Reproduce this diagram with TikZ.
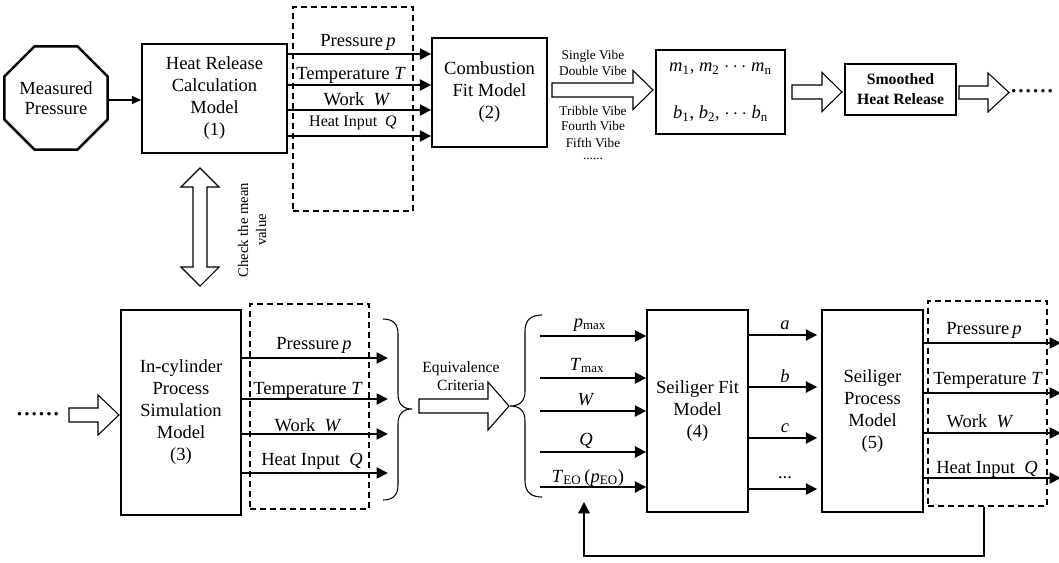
\documentclass[tikz,border=0pt]{standalone}
\usepackage{fontspec}
\setmainfont{Liberation Serif}
\usetikzlibrary{arrows.meta,shapes.geometric}
\newcommand\mainf{\fontsize{13.9}{16.5}\selectfont}
\newcommand\smallf{\fontsize{12}{14}\selectfont}
\newcommand\vibef{\fontsize{10}{11.6}\selectfont}
\newcommand\HArr[6]{\draw[hol] (#1,{#3-#4}) -- (#6,{#3-#4}) -- (#6,{#3-#5}) -- (#2,#3) -- (#6,{#3+#5}) -- (#6,{#3+#4}) -- (#1,{#3+#4}) -- cycle;}
\begin{document}
\begin{tikzpicture}[x=0.75pt,y=-0.75pt,
  box/.style={draw,line width=1.05pt,inner sep=0pt,align=center,font=\mainf},
  oct/.style={draw,regular polygon,regular polygon sides=8,minimum size=78.75pt,line width=1.9pt,inner sep=0pt,align=center,font=\fontsize{13.9}{15}\selectfont},
  dbox/.style={draw,dashed,dash pattern=on 4.5pt off 3pt,line width=1pt,inner sep=0pt},
  thk/.style={line width=2.1pt,-{Triangle[length=8.5pt,width=8pt]}},
  thn/.style={line width=0.9pt,-{Triangle[length=7pt,width=6pt]}},
  fb/.style={line width=1.7pt,-{Triangle[length=8.5pt,width=8.5pt]}},
  hol/.style={draw,line width=0.8pt,fill=white,line join=miter},
  brc/.style={draw,line width=0.8pt},
  lab/.style={font=\mainf,anchor=base,inner sep=0pt},
  slab/.style={font=\smallf,anchor=base,inner sep=0pt},
  vlab/.style={font=\vibef,anchor=base,inner sep=0pt}
]
\useasboundingbox (0,0) rectangle (1059,563);

% dashed frames
\node[dbox,minimum width=90pt,minimum height=153pt] (d1) at (353,109) {};
\node[dbox,minimum width=89.25pt,minimum height=153.75pt] (d2) at (309.5,406.5) {};
\node[dbox,minimum width=89.25pt,minimum height=153.75pt] (d3) at (987.5,403.5) {};

% boxes
\node[oct] (mp) at (56,98) {Measured\\Pressure};
\node[box,minimum width=108.75pt,minimum height=81.75pt] (b1) at (214.5,98.5) {Heat Release\\Calculation\\Model\\(1)};
\node[box,minimum width=86.25pt,minimum height=81.75pt] (b2) at (489.5,92.5) {Combustion\\Fit Model\\(2)};
\node[box,minimum width=96.75pt,minimum height=63pt] (mb) at (720.5,92)
  {\textit{m}\textsubscript{1}, \textit{m}\textsubscript{2} $\cdots$ \textit{m}\textsubscript{n}\\[18.5pt]
   \textit{b}\textsubscript{1}, \textit{b}\textsubscript{2}, $\cdots$ \textit{b}\textsubscript{n}};
\node[box,minimum width=83.25pt,minimum height=38.25pt,font=\fontsize{11.8}{15}\selectfont\bfseries] (sh) at (900.5,89.5) {Smoothed\\Heat Release};
\node[box,minimum width=90pt,minimum height=153.75pt] (b3) at (181,412.5) {In-cylinder\\Process\\Simulation\\Model\\(3)};
\node[box,minimum width=75.75pt,minimum height=151.5pt] (b4) at (697.5,411) {Seiliger Fit\\Model\\(4)};
\node[box,minimum width=75.75pt,minimum height=151.5pt] (b5) at (872.5,411) {Seiliger\\Process\\Model\\(5)};

% measured pressure -> model 1
\draw[thn] (mp.east |- 0,100) -- (b1.west |- 0,100);

% top outputs
\foreach \yy in {54,85,110,136} {\draw[thk] (b1.east |- 0,\yy) -- (b2.west |- 0,\yy);}
\node[lab] (tp) at (358,47) {Pressure\,\textit{p}};
\node[lab] (tt) at (351,80) {Temperature \textit{T}};
\node[lab] (tw) at (357,106) {Work\ \ \textit{W}};
\node[slab] (tq) at (353,127) {Heat Input\ \ \textit{Q}};

% hollow arrows top
\HArr{552}{653}{90}{7}{19.5}{633}
\node[vlab] (v1) at (593,60) {Single Vibe};
\node[vlab] (v2) at (593,76) {Double Vibe};
\node[vlab] (v3) at (593,116) {Tribble Vibe};
\node[vlab] (v4) at (593,131) {Fourth Vibe};
\node[vlab] (v5) at (593,147) {Fifth Vibe};
\node[vlab] (v6) at (593,160) {......};
\HArr{792}{842}{92}{7}{19.5}{822}
\HArr{959}{1009}{92.5}{6.5}{19.5}{988}
\node[font=\fontsize{22}{22}\selectfont,anchor=base,inner sep=0pt] (rdots) at (1032,93) {......};

% check the mean value
\draw[hol] (200,168) -- (219,187) -- (207,187) -- (207,267) -- (219,267) -- (200,286) -- (181,267) -- (193,267) -- (193,187) -- (181,187) -- cycle;
\node[rotate=90,font=\fontsize{11}{13.5}\selectfont,align=center,inner sep=0pt] (chk) at (252,230) {Check the mean\\value};

% bottom left
\node[font=\fontsize{22}{22}\selectfont,anchor=base,inner sep=0pt] (ldots) at (38,415) {......};
\HArr{69}{119}{415}{7}{20}{98}
\foreach \yy in {358,399,434,473} {\draw[thk] (b3.east |- 0,\yy) -- (388,\yy);}
\node[lab] (bp) at (314,349) {Pressure\,\textit{p}};
\node[lab] (bt) at (308,394) {Temperature \textit{T}};
\node[lab] (bw) at (308,431) {Work\ \ \textit{W}};
\node[lab] (bq) at (312,465) {Heat Input\ \ \textit{Q}};

% braces
\draw[brc] (383,319) .. controls (393,319) and (398,324) .. (398,334) -- (398,394) .. controls (398,404) and (403,409) .. (412,409) .. controls (403,409) and (398,414) .. (398,424) -- (398,485) .. controls (398,495) and (393,500) .. (383,500);
\HArr{419}{509}{406}{7}{24}{488}
\node[font=\fontsize{11.7}{14}\selectfont,align=center,inner sep=0pt] (eq) at (461,376) {Equivalence\\Criteria};
\draw[brc] (542,315) .. controls (531,315) and (525,320) .. (525,331) -- (525,391) .. controls (525,401) and (520,406) .. (510,406) .. controls (520,406) and (525,411) .. (525,421) -- (525,481) .. controls (525,492) and (531,497) .. (542,497);

% inputs to Seiliger fit
\foreach \yy in {336,378,411,452,487} {\draw[thk] (540,\yy) -- (b4.west |- 0,\yy);}
\node[lab] (ipm) at (590,327) {\textit{p}\textsubscript{max}};
\node[lab] (itm) at (587,370) {\textit{T}\textsubscript{max}};
\node[lab] (iw) at (586,405) {\textit{W}};
\node[lab] (iq) at (586,445) {\textit{Q}};
\node[lab] (ite) at (588,482) {\textit{T}\textsubscript{EO}\,(\textit{p}\textsubscript{EO})};

% fit -> process
\foreach \yy in {335,387,438,489} {\draw[thk,shorten >=3pt] (b4.east |- 0,\yy) -- (b5.west |- 0,\yy);}
\node[lab] (la) at (785,329) {\textit{a}};
\node[lab] (lb) at (785,382) {\textit{b}};
\node[lab] (lc) at (785,432) {\textit{c}};
\node[lab] (ld) at (785,478) {...};

% process outputs
\foreach \yy in {343,393,433,478} {\draw[thk] (b5.east |- 0,\yy) -- (1061,\yy);}
\node[lab] (rp) at (984,334) {Pressure\,\textit{p}};
\node[lab] (rt) at (988,384) {Temperature \textit{T}};
\node[lab] (rw) at (980,427) {Work\ \ \textit{W}};
\node[lab] (rq) at (987,473) {Heat Input\ \ \textit{Q}};

% feedback
\coordinate (fbend) at (584,502);
\draw[fb] (d3.south -| 984,0) -- (984,556) -| (fbend);
\end{tikzpicture}
\end{document}
